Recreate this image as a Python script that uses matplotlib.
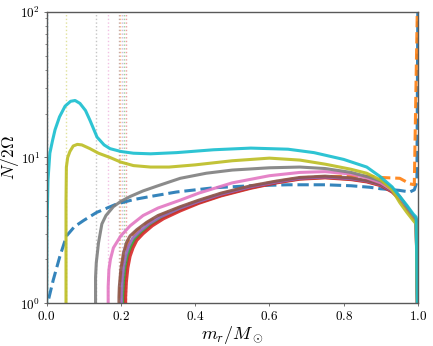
import matplotlib
matplotlib.use("Agg")
import matplotlib.pyplot as plt

plt.rcParams['font.family'] = 'serif'
plt.rcParams['font.serif'] = ['cmr10', 'DejaVu Serif']
plt.rcParams['mathtext.fontset'] = 'cm'
plt.rcParams['axes.formatter.use_mathtext'] = True
plt.rcParams['axes.unicode_minus'] = False

# mass coordinate / N over 2 Omega for each model
m_blue = [0.0, 0.005, 0.018, 0.036, 0.054, 0.075, 0.1, 0.135, 0.189, 0.235, 0.279, 0.35,
          0.45, 0.55, 0.65, 0.75, 0.82, 0.87, 0.9, 0.95, 0.978, 0.99, 0.997, 1.0]
n_blue = [0.5, 1.05, 1.44, 2.1, 2.9, 3.35, 3.7, 4.2, 4.8, 5.15, 5.4, 5.8,
          6.2, 6.4, 6.5, 6.5, 6.4, 6.25, 6.1, 5.95, 5.8, 6.0, 6.8, 200]

m_orange = [0.198, 0.198, 0.2, 0.204, 0.21, 0.218, 0.228, 0.245, 0.27, 0.3, 0.36, 0.41, 0.47,
            0.55, 0.62, 0.682, 0.75, 0.82, 0.862, 0.898, 0.951, 0.978, 0.99, 1.0]
n_orange = [0.5, 1.2, 1.5, 1.85, 2.2, 2.55, 2.85, 3.15, 3.55, 3.95, 4.55, 5.05, 5.65,
            6.35, 6.85, 7.25, 7.4, 7.45, 7.45, 7.3, 7.2, 6.6, 6.5, 200]

m_green = [0.208, 0.208, 0.21, 0.214, 0.22, 0.228, 0.238, 0.255, 0.28, 0.31, 0.36, 0.41, 0.47,
           0.55, 0.62, 0.682, 0.75, 0.82, 0.862, 0.9, 0.93, 0.951, 0.97, 0.987, 0.995, 1.0]
n_green = [0.5, 1.15, 1.45, 1.8, 2.15, 2.45, 2.75, 3.05, 3.45, 3.85, 4.4, 4.9, 5.5,
           6.2, 6.75, 7.15, 7.3, 7.1, 6.85, 6.45, 5.85, 5.2, 4.5, 3.9, 3.7, 0.5]

m_red = [0.213, 0.213, 0.215, 0.219, 0.225, 0.233, 0.243, 0.26, 0.285, 0.315, 0.36, 0.41, 0.47,
         0.55, 0.62, 0.682, 0.75, 0.82, 0.862, 0.9, 0.93, 0.951, 0.97, 0.987, 0.995, 1.0]
n_red = [0.5, 1.1, 1.4, 1.75, 2.1, 2.4, 2.7, 3.0, 3.4, 3.8, 4.3, 4.85, 5.45,
         6.15, 6.7, 7.1, 7.25, 7.05, 6.8, 6.4, 5.8, 5.15, 4.45, 3.85, 3.65, 0.5]

m_purple = [0.202, 0.202, 0.204, 0.208, 0.214, 0.222, 0.232, 0.25, 0.275, 0.305, 0.36, 0.41, 0.47,
            0.55, 0.62, 0.682, 0.75, 0.82, 0.862, 0.9, 0.93, 0.951, 0.97, 0.987, 0.995, 1.0]
n_purple = [0.5, 1.15, 1.45, 1.8, 2.15, 2.5, 2.8, 3.1, 3.5, 3.9, 4.5, 5.0, 5.6,
            6.3, 6.8, 7.2, 7.35, 7.15, 6.9, 6.5, 5.9, 5.2, 4.5, 3.9, 3.7, 0.5]

m_brown = [0.195, 0.195, 0.196, 0.2, 0.207, 0.215, 0.225, 0.243, 0.27, 0.3, 0.36, 0.41, 0.47,
           0.55, 0.62, 0.682, 0.75, 0.82, 0.862, 0.9, 0.93, 0.951, 0.97, 0.987, 0.995, 1.0]
n_brown = [0.5, 1.1, 1.3, 1.7, 2.2, 2.6, 2.9, 3.2, 3.6, 4.0, 4.6, 5.1, 5.7,
           6.4, 6.9, 7.3, 7.45, 7.25, 6.95, 6.55, 5.95, 5.25, 4.55, 3.95, 3.75, 0.5]

m_pink = [0.166, 0.166, 0.168, 0.172, 0.18, 0.2, 0.225, 0.26, 0.3, 0.36, 0.41, 0.5,
          0.6, 0.682, 0.75, 0.82, 0.862, 0.9, 0.93, 0.951, 0.97, 0.987, 0.995, 1.0]
n_pink = [0.5, 1.3, 1.7, 2.0, 2.4, 2.9, 3.4, 4.0, 4.5, 5.1, 5.7, 6.7,
          7.5, 7.9, 8.0, 7.7, 7.25, 6.7, 6.0, 5.3, 4.6, 4.0, 3.8, 0.5]

m_gray = [0.132, 0.132, 0.134, 0.14, 0.149, 0.16, 0.18, 0.2, 0.225, 0.26, 0.3, 0.36, 0.43,
          0.5, 0.6, 0.682, 0.75, 0.82, 0.862, 0.9, 0.93, 0.951, 0.97, 0.987, 0.995, 1.0]
n_gray = [0.5, 1.5, 1.9, 2.6, 3.5, 4.0, 4.6, 5.0, 5.4, 5.9, 6.4, 7.2, 7.8,
          8.2, 8.5, 8.6, 8.4, 7.9, 7.4, 6.9, 6.2, 5.4, 4.6, 4.0, 3.8, 0.5]

m_olive = [0.0525, 0.0525, 0.0535, 0.057, 0.063, 0.072, 0.083, 0.095, 0.117, 0.14, 0.171, 0.2,
           0.234, 0.28, 0.33, 0.4, 0.5, 0.6, 0.682, 0.75, 0.82, 0.862, 0.9, 0.93, 0.951, 0.97,
           0.987, 0.995, 1.0]
n_olive = [0.5, 5.0, 8.6, 10.0, 11.0, 12.0, 12.3, 12.2, 11.5, 10.7, 10.0, 9.3,
           8.8, 8.6, 8.6, 8.9, 9.5, 9.9, 9.6, 9.0, 8.3, 7.8, 7.0, 6.0, 4.9, 4.2,
           3.7, 3.5, 0.5]

m_cyan = [0.0, 0.001, 0.004, 0.009, 0.016, 0.023, 0.035, 0.05, 0.065, 0.077, 0.09, 0.105,
          0.117, 0.136, 0.155, 0.171, 0.2, 0.234, 0.28, 0.35, 0.45, 0.55, 0.65, 0.72, 0.8,
          0.862, 0.898, 0.93, 0.951, 0.97, 0.987, 0.995, 1.0]
n_cyan = [0.5, 3.0, 7.0, 10.7, 13.0, 15.5, 19.0, 22.5, 24.3, 24.6, 23.5, 21.0,
          18.0, 13.8, 12.2, 11.5, 11.0, 10.7, 10.6, 10.8, 11.3, 11.6, 11.4, 10.8, 9.7,
          8.6, 7.4, 6.3, 5.4, 4.7, 4.1, 3.9, 0.5]

models = [
    (m_blue, n_blue, 'C0', '--'),
    (m_orange, n_orange, 'C1', '--'),
    (m_green, n_green, 'C2', '-'),
    (m_red, n_red, 'C3', '-'),
    (m_purple, n_purple, 'C4', '-'),
    (m_brown, n_brown, 'C5', '-'),
    (m_pink, n_pink, 'C6', '-'),
    (m_gray, n_gray, 'C7', '-'),
    (m_olive, n_olive, 'C8', '-'),
    (m_cyan, n_cyan, 'C9', '-'),
]

fig = plt.figure(figsize=(4.33, 3.46), dpi=100)
ax = fig.add_axes([0.1074, 0.1234, 0.858, 0.8428])

# core boundaries
for m, n, c, ls in models:
    ax.axvline(m[0], color=c, ls=':', lw=1.0, alpha=0.45)

for m, n, c, ls in models:
    ax.plot(m, n, color=c, ls=ls, lw=2.2, alpha=0.9)

ax.set_yscale('log')
ax.set_xlim(0, 1)
ax.set_ylim(1, 100)
ax.set_xticks([0.0, 0.2, 0.4, 0.6, 0.8, 1.0])
ax.set_xlabel(r'$m_r/M_\odot$', fontsize=13, labelpad=1)
ax.set_ylabel(r'$N/2\Omega$', fontsize=12.5)
ax.yaxis.set_label_coords(-0.068, 0.5)

for s in ax.spines.values():
    s.set_color('0.35')
    s.set_linewidth(1.0)
ax.tick_params(which='major', length=2.5, width=0.6, color='0.35', labelsize=9.5, pad=2)
ax.tick_params(which='minor', length=1.5, width=0.5, color='0.35')

fig.savefig('out.png', dpi=100)
